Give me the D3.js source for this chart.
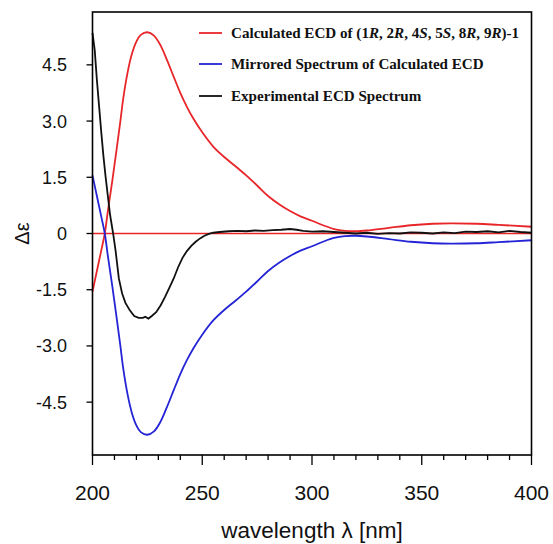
<!DOCTYPE html>
<html>
<head>
<meta charset="utf-8">
<script src="https://cdn.jsdelivr.net/npm/d3@7"></script>
<style>
  body { margin: 0; background: #fff; }
  svg { display: block; }
</style>
</head>
<body>
<svg id="chart" width="553" height="544"></svg>
<script>
// ===== Data =====
const calcWl = [200, 202, 204, 205.6, 207, 209, 211, 212.7, 214, 216, 218, 220, 222, 225, 228, 231, 234, 237, 240, 243, 246, 250, 255, 260, 265, 270, 275, 280, 285, 290, 295, 300, 305, 310, 315, 320, 325, 335, 345, 355, 363, 375, 385, 400];
const calcVals = [-1.55, -1.0, -0.45, 0, 0.6, 1.4, 2.25, 3.0, 3.6, 4.3, 4.8, 5.12, 5.3, 5.37, 5.28, 5.02, 4.62, 4.18, 3.75, 3.38, 3.06, 2.7, 2.32, 2.04, 1.8, 1.55, 1.28, 1.0, 0.78, 0.6, 0.45, 0.34, 0.22, 0.12, 0.07, 0.06, 0.08, 0.15, 0.22, 0.26, 0.27, 0.26, 0.23, 0.18];
const mirrorVals = [1.55, 1.0, 0.45, 0, -0.6, -1.4, -2.25, -3.0, -3.6, -4.3, -4.8, -5.12, -5.3, -5.37, -5.28, -5.02, -4.62, -4.18, -3.75, -3.38, -3.06, -2.7, -2.32, -2.04, -1.8, -1.55, -1.28, -1.0, -0.78, -0.6, -0.45, -0.34, -0.22, -0.12, -0.07, -0.06, -0.08, -0.15, -0.22, -0.26, -0.27, -0.26, -0.23, -0.18];

const expWl = [200, 201, 202, 203, 204, 205, 206, 207, 208, 209.4, 210.5, 212, 213.5, 215, 217, 219, 221, 223, 224, 225.5, 227, 229, 231, 233, 235, 237, 239, 241, 243, 245, 247, 249, 251, 253, 255, 258, 262, 266, 270, 274, 278, 282, 286, 290, 293, 296, 300, 305, 310, 315, 320, 325, 330, 335, 340, 345, 350, 355, 360, 365, 370, 375, 380, 385, 390, 395, 400];
const expVals = [5.35, 4.9, 4.1, 3.4, 2.7, 2.05, 1.5, 1.0, 0.5, 0, -0.45, -1.2, -1.6, -1.85, -2.05, -2.2, -2.25, -2.25, -2.22, -2.27, -2.2, -2.1, -1.92, -1.7, -1.45, -1.2, -0.9, -0.65, -0.47, -0.33, -0.22, -0.13, -0.06, -0.01, 0.02, 0.04, 0.06, 0.07, 0.06, 0.08, 0.07, 0.09, 0.1, 0.12, 0.1, 0.07, 0.05, 0.06, 0.04, 0.02, 0.0, 0.02, -0.01, 0.01, 0.0, 0.03, 0.02, 0.0, 0.03, 0.01, 0.05, 0.04, 0.06, 0.03, 0.07, 0.04, 0.02];

const yTicks = [-4.5, -3.0, -1.5, 0, 1.5, 3.0, 4.5];
const yTickLabels = ["-4.5", "-3.0", "-1.5", "0", "1.5", "3.0", "4.5"];
const xMajor = [200, 250, 300, 350, 400];
const xMinor = d3.range(200, 401, 10);

// ===== Basis SVG =====
const svg = d3.select("#chart");
const pLeft = 92.5, pRight = 531.5, pTop = 12, pBottom = 455;

const x = d3.scaleLinear().domain([200, 400]).range([pLeft, pRight]);
const y = d3.scaleLinear().domain([-5.91, 5.91]).range([pBottom, pTop]);

const RED = "#e8262a", BLUE = "#2424d6", BLACK = "#111";

// Zero line
svg.append("line")
  .attr("x1", pLeft).attr("x2", pRight)
  .attr("y1", y(0)).attr("y2", y(0))
  .attr("stroke", RED).attr("stroke-width", 1.5);

// Curves
const smooth = d3.line()
  .x(d => x(d[0]))
  .y(d => y(d[1]))
  .curve(d3.curveCatmullRom.alpha(0.5));

const straight = d3.line()
  .x(d => x(d[0]))
  .y(d => y(d[1]));

function series(wl, vals) { return wl.map((w, i) => [w, vals[i]]); }

svg.append("path")
  .datum(series(calcWl, calcVals))
  .attr("d", smooth).attr("fill", "none")
  .attr("stroke", RED).attr("stroke-width", 1.8);

svg.append("path")
  .datum(series(calcWl, mirrorVals))
  .attr("d", smooth).attr("fill", "none")
  .attr("stroke", BLUE).attr("stroke-width", 1.8);

svg.append("path")
  .datum(series(expWl, expVals))
  .attr("d", straight).attr("fill", "none")
  .attr("stroke", BLACK).attr("stroke-width", 1.8);

// Frame
svg.append("rect")
  .attr("x", pLeft).attr("y", pTop)
  .attr("width", pRight - pLeft).attr("height", pBottom - pTop)
  .attr("fill", "none").attr("stroke", "#000").attr("stroke-width", 1.6);

// X ticks
svg.selectAll(".xminor")
  .data(xMinor)
  .enter().append("line")
  .attr("x1", d => x(d)).attr("x2", d => x(d))
  .attr("y1", pBottom).attr("y2", d => xMajor.includes(d) ? pBottom + 10 : pBottom + 5)
  .attr("stroke", "#000").attr("stroke-width", 1.3);

svg.selectAll(".xlab")
  .data(xMajor)
  .enter().append("text")
  .attr("x", d => x(d)).attr("y", 500)
  .attr("text-anchor", "middle")
  .attr("font-family", "Liberation Sans, Arial, sans-serif")
  .attr("font-size", "21px")
  .attr("fill", "#111")
  .text(d => d);

// Y ticks
svg.selectAll(".ytick")
  .data(yTicks)
  .enter().append("line")
  .attr("x1", pLeft - 6).attr("x2", pLeft)
  .attr("y1", d => y(d)).attr("y2", d => y(d))
  .attr("stroke", "#000").attr("stroke-width", 1.3);

svg.selectAll(".ylab")
  .data(yTicks)
  .enter().append("text")
  .attr("x", 67).attr("y", d => y(d))
  .attr("dy", "0.36em")
  .attr("text-anchor", "end")
  .attr("font-family", "Liberation Sans, Arial, sans-serif")
  .attr("font-size", "18px")
  .attr("fill", "#111")
  .text((d, i) => yTickLabels[i]);

// Axis titles
svg.append("text")
  .attr("x", 312).attr("y", 538)
  .attr("text-anchor", "middle")
  .attr("font-family", "Liberation Sans, Arial, sans-serif")
  .attr("font-size", "22.5px")
  .attr("fill", "#111")
  .text("wavelength λ [nm]");

svg.append("text")
  .attr("transform", `translate(29, ${y(0)}) rotate(-90)`)
  .attr("text-anchor", "middle")
  .attr("font-family", "Liberation Sans, Arial, sans-serif")
  .attr("font-size", "20px")
  .attr("fill", "#111")
  .text("Δε");

// ===== Legend =====
const legendItems = [
  { color: RED, parts: [["Calculated ECD of (1", false], ["R", true], [", 2", false], ["R", true], [", 4", false], ["S", true], [", 5", false], ["S", true], [", 8", false], ["R", true], [", 9", false], ["R", true], [")-1", false]] },
  { color: BLUE, parts: [["Mirrored Spectrum of Calculated ECD", false]] },
  { color: BLACK, parts: [["Experimental ECD Spectrum", false]] }
];
const legendY = [33, 64, 96];

const leg = svg.selectAll(".legend")
  .data(legendItems)
  .enter().append("g")
  .attr("transform", (d, i) => `translate(199, ${legendY[i]})`);

leg.append("line")
  .attr("x1", 0).attr("x2", 23)
  .attr("stroke", d => d.color).attr("stroke-width", 1.8);

const lt = leg.append("text")
  .attr("x", 32).attr("dy", "0.35em")
  .attr("font-family", "Liberation Serif, Times New Roman, serif")
  .attr("font-weight", "bold")
  .attr("font-size", "15.1px")
  .attr("fill", "#111");

lt.selectAll("tspan")
  .data(d => d.parts)
  .enter().append("tspan")
  .attr("font-style", d => d[1] ? "italic" : "normal")
  .text(d => d[0]);
</script>
</body>
</html>
